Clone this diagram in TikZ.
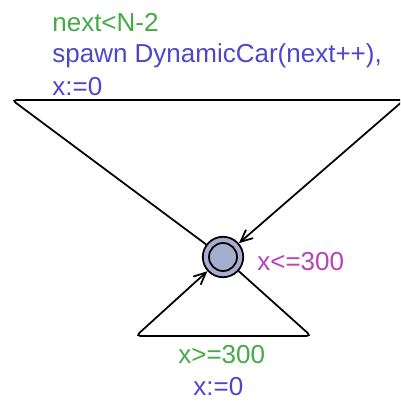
\documentclass[tikz,border=0pt]{standalone}
\usepackage{fontspec}
\setmainfont{Liberation Sans}
\usetikzlibrary{arrows.meta, positioning}
\definecolor{ugreen}{RGB}{70,170,70}
\definecolor{ublue}{RGB}{80,70,200}
\definecolor{umagenta}{RGB}{185,65,185}
\definecolor{ulocfill}{RGB}{166,173,206}
\tikzset{
    loc/.style={circle, draw=black, line width=1pt, fill=ulocfill, minimum size=23pt, inner sep=0pt},
    edge/.style={draw=black, line width=1pt, rounded corners=2.5pt},
    edgearrow/.style={edge, -{Straight Barb[length=2.4mm, width=2.2mm]}},
    lbl/.style={inner sep=0pt, anchor=base west, font=\fontsize{14.8}{17}\selectfont},
    guard/.style={lbl, text=ugreen},
    update/.style={lbl, text=ublue},
    invariant/.style={lbl, text=umagenta},
}

\begin{document}
\begin{tikzpicture}[x=0.02cm, y=-0.02cm]
    \useasboundingbox (0,0) rectangle (400,401);
    \begin{scope}
    \clip (0,0) rectangle (400,401);
    % location
    \node[loc] (idle) at (223,257) {};
    \draw[line width=1pt] (idle.center) circle (14*0.02cm);
    % spawning edge over the top
    \coordinate (topleft) at (12,100);
    \coordinate (topright) at (404,100);
    \draw[edgearrow] (idle) -- (topleft) -- (topright) -- (idle);
    % reset edge below
    \coordinate (lowleft) at (136,336);
    \coordinate (lowright) at (311,336);
    \draw[edgearrow] (idle) -- (lowright) -- (lowleft) -- (idle);
    \end{scope}
    % labels
    \node[guard] (spawnguard) at (52,32) {next<N-2};
    \node[update] (spawnupd) at (52,63) {spawn DynamicCar(next++),};
    \node[update] (spawnreset) at (52,96) {x:=0};
    \node[invariant] (idleinv) at (257,270) {x<=300};
    \node[guard] (loopguard) at (178,363) {x>=300};
    \node[update] (loopreset) at (193,395) {x:=0};
\end{tikzpicture}
\end{document}
